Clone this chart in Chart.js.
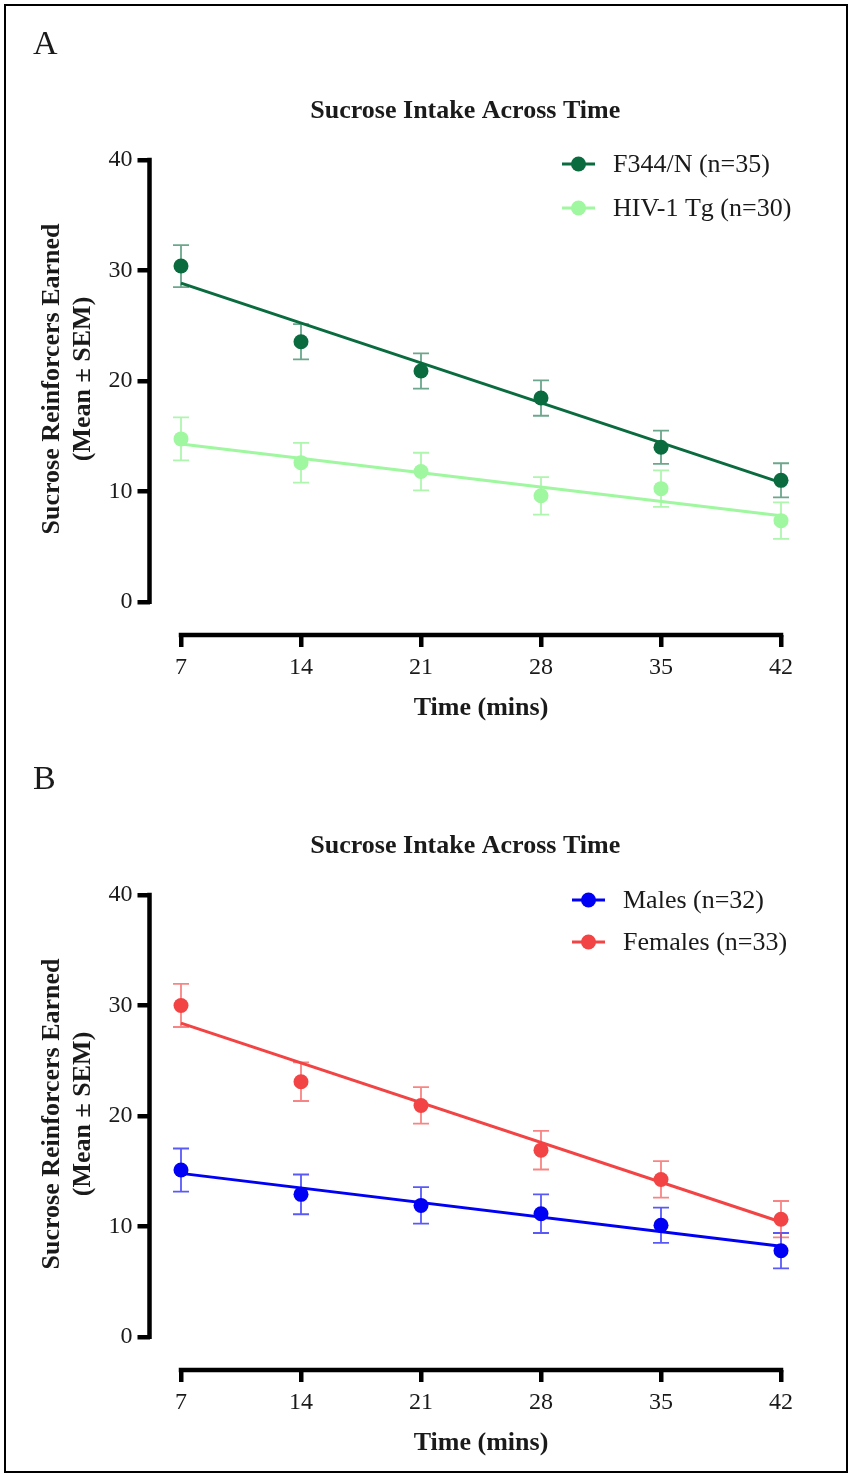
<!DOCTYPE html>
<html>
<head>
<meta charset="utf-8">
<script src="https://cdn.jsdelivr.net/npm/chart.js@4.4.1/dist/chart.umd.min.js"></script>
<style>
    body { margin: 0; background: #fff; }
    #wrap { position: relative; width: 849px; height: 1474px; }
    #frame { position: absolute; left: 4px; top: 4px; width: 840px; height: 1465px; border: 2px solid #000; }
    canvas { position: absolute; left: 0; }
    #panelA { top: 0; }
    #panelB { top: 735px; }
</style>
</head>
<body>
<div id="wrap">
    <div id="frame"></div>
    <canvas id="panelA" width="849" height="735"></canvas>
    <canvas id="panelB" width="849" height="735"></canvas>
</div>
<script>
const timePoints = [7, 14, 21, 28, 35, 42];
const yTicks = [0, 10, 20, 30, 40];
const fitRange = [7, 42];

// panel A: strain
const f344Mean = [30.4, 23.55, 20.9, 18.45, 14.0, 11.0];
const f344Sem = [1.9, 1.6, 1.6, 1.6, 1.5, 1.55];
const f344Fit = [28.85, 10.8];
const hivMean = [14.75, 12.6, 11.8, 9.6, 10.25, 7.35];
const hivSem = [1.95, 1.8, 1.7, 1.7, 1.65, 1.65];
const hivFit = [14.3, 7.8];

// panel B: sex
const maleMean = [15.1, 12.9, 11.9, 11.15, 10.1, 7.8];
const maleSem = [1.95, 1.8, 1.65, 1.75, 1.6, 1.6];
const maleFit = [14.8, 8.2];
const femaleMean = [30.0, 23.1, 20.95, 16.9, 14.25, 10.65];
const femaleSem = [1.95, 1.75, 1.65, 1.75, 1.65, 1.65];
const femaleFit = [28.4, 10.4];

const SERIF = '"Liberation Serif", "Times New Roman", serif';
const INK = "#1a1a1a";

function toPoints(xs, ys) {
    return xs.map((x, i) => ({x: x, y: ys[i]}));
}

function seriesDatasets(label, color, errColor, mean, sem, fit) {
    return [
        {
            type: "scatter",
            label: label,
            data: toPoints(timePoints, mean),
            sem: sem,
            errColor: errColor,
            backgroundColor: color,
            borderColor: color,
            pointRadius: 7.5,
            pointHoverRadius: 7.5,
            borderWidth: 0,
            clip: false,
            order: 0
        },
        {
            type: "line",
            label: label + " fit",
            data: toPoints(fitRange, fit),
            borderColor: color,
            borderWidth: 3,
            pointRadius: 0,
            fill: false,
            clip: false,
            isFit: true,
            order: 1
        }
    ];
}

// axis lines, error bars, titles and the legend
const prismPlugin = {
    id: "prism",
    beforeDatasetsDraw(chart) {
        const ctx = chart.ctx;
        const xs = chart.scales.x, ys = chart.scales.y;
        ctx.save();
        chart.data.datasets.forEach(ds => {
            if (!ds.sem) return;
            ctx.strokeStyle = ds.errColor;
            ctx.lineWidth = 1.8;
            ds.data.forEach((p, i) => {
                const px = xs.getPixelForValue(p.x);
                const top = ys.getPixelForValue(p.y + ds.sem[i]);
                const bot = ys.getPixelForValue(p.y - ds.sem[i]);
                ctx.beginPath();
                ctx.moveTo(px, top); ctx.lineTo(px, bot);
                ctx.moveTo(px - 8, top); ctx.lineTo(px + 8, top);
                ctx.moveTo(px - 8, bot); ctx.lineTo(px + 8, bot);
                ctx.stroke();
            });
        });
        ctx.restore();
    },
    afterDraw(chart) {
        const ctx = chart.ctx;
        const opts = chart.options.plugins.prism;
        const xs = chart.scales.x, ys = chart.scales.y;
        const area = chart.chartArea;
        const w = 4.5;
        ctx.save();
        ctx.strokeStyle = "#000";
        ctx.lineWidth = w;
        ctx.beginPath();
        ctx.moveTo(area.left, ys.getPixelForValue(yTicks[yTicks.length - 1]) - w / 2);
        ctx.lineTo(area.left, ys.getPixelForValue(yTicks[0]) + w / 2);
        ctx.moveTo(xs.getPixelForValue(timePoints[0]) - w / 2, area.bottom);
        ctx.lineTo(xs.getPixelForValue(timePoints[timePoints.length - 1]) + w / 2, area.bottom);
        ctx.stroke();

        ctx.fillStyle = INK;
        ctx.textBaseline = "alphabetic";

        ctx.font = "34px " + SERIF;
        ctx.textAlign = "left";
        ctx.fillText(opts.letter, 33, 54);

        ctx.font = "bold 26px " + SERIF;
        ctx.textAlign = "center";
        ctx.fillText(opts.title, (area.left + area.right) / 2, 118);

        const xMid = (xs.getPixelForValue(timePoints[0]) + xs.getPixelForValue(timePoints[timePoints.length - 1])) / 2;
        ctx.fillText(opts.xTitle, xMid, 715);

        const yMid = (ys.getPixelForValue(yTicks[0]) + ys.getPixelForValue(yTicks[yTicks.length - 1])) / 2;
        opts.yTitle.forEach((line, i) => {
            ctx.save();
            ctx.translate(59 + i * 31, yMid - 2);
            ctx.rotate(-Math.PI / 2);
            ctx.fillText(line, 0, 0);
            ctx.restore();
        });

        // legend: line with a dot, then the label
        const lg = opts.legend;
        ctx.font = "26px " + SERIF;
        ctx.textAlign = "left";
        ctx.textBaseline = "middle";
        chart.data.datasets.filter(ds => !ds.isFit).forEach((ds, i) => {
            const cy = lg.y + i * lg.gap;
            ctx.strokeStyle = ds.borderColor;
            ctx.lineWidth = 3;
            ctx.beginPath();
            ctx.moveTo(lg.x, cy);
            ctx.lineTo(lg.x + 33, cy);
            ctx.stroke();
            ctx.fillStyle = ds.backgroundColor;
            ctx.beginPath();
            ctx.arc(lg.x + 16.5, cy, 7.5, 0, Math.PI * 2);
            ctx.fill();
            ctx.fillStyle = INK;
            ctx.fillText(ds.label, lg.x + 51, cy + 1);
        });
        ctx.restore();
    }
};

function makePanel(id, letter, datasets, legend) {
    const ctx = document.getElementById(id).getContext("2d");
    return new Chart(ctx, {
        data: {datasets: datasets},
        options: {
            responsive: false,
            animation: false,
            events: [],
            layout: {padding: {left: 0, right: 68, top: 160, bottom: 0}},
            plugins: {
                legend: {display: false},
                tooltip: {enabled: false},
                prism: {
                    letter: letter,
                    title: "Sucrose Intake Across Time",
                    xTitle: "Time (mins)",
                    yTitle: ["Sucrose Reinforcers Earned", "(Mean \u00b1 SEM)"],
                    legend: legend
                }
            },
            scales: {
                x: {
                    type: "linear",
                    min: 5.1625,
                    max: 42,
                    afterBuildTicks: s => { s.ticks = timePoints.map(v => ({value: v})); },
                    afterFit: s => { s.height = 100; },
                    grid: {drawOnChartArea: false, drawTicks: true, tickLength: 12, lineWidth: 4.5, color: "#000"},
                    border: {display: false},
                    ticks: {color: INK, font: {family: SERIF, size: 24}, padding: 6, maxRotation: 0}
                },
                y: {
                    type: "linear",
                    min: -3,
                    max: 40,
                    afterBuildTicks: s => { s.ticks = yTicks.map(v => ({value: v})); },
                    afterFit: s => { s.width = 149.5; },
                    grid: {drawOnChartArea: false, drawTicks: true, tickLength: 12, lineWidth: 4.5, color: "#000"},
                    border: {display: false},
                    ticks: {color: INK, font: {family: SERIF, size: 24}, padding: 5}
                }
            }
        },
        plugins: [prismPlugin]
    });
}

makePanel("panelA", "A", [
    ...seriesDatasets("F344/N (n=35)", "#0a6b3f", "rgba(10,107,63,0.6)", f344Mean, f344Sem, f344Fit),
    ...seriesDatasets("HIV-1 Tg (n=30)", "#9ff79f", "rgba(130,240,130,0.65)", hivMean, hivSem, hivFit)
], {x: 562, y: 164, gap: 44});

makePanel("panelB", "B", [
    ...seriesDatasets("Males (n=32)", "#0000f5", "rgba(0,0,245,0.65)", maleMean, maleSem, maleFit),
    ...seriesDatasets("Females (n=33)", "#f24444", "rgba(242,68,68,0.65)", femaleMean, femaleSem, femaleFit)
], {x: 572, y: 165, gap: 42});
</script>
</body>
</html>
